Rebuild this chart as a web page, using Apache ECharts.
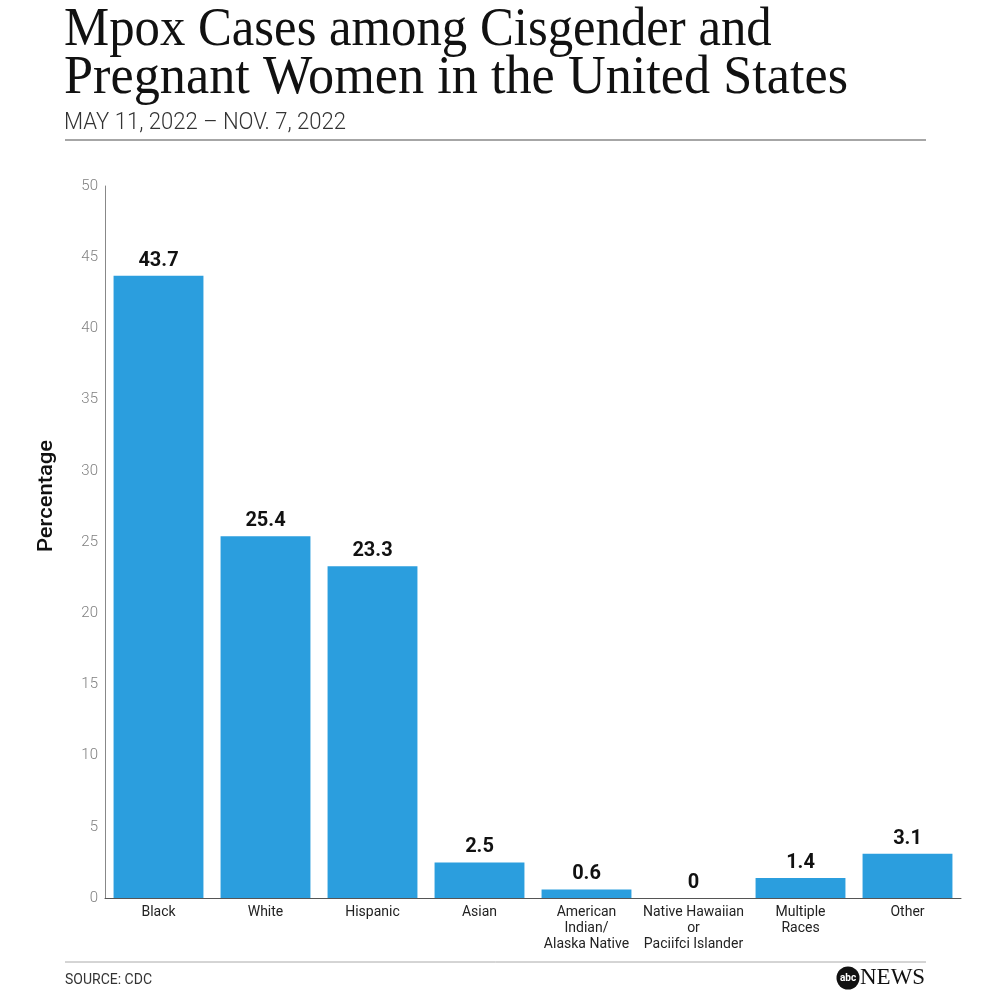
<!DOCTYPE html>
<html><head><meta charset="utf-8">
<script src="https://cdn.jsdelivr.net/npm/echarts@6/dist/echarts.min.js"></script>
<style>html,body{margin:0;padding:0;background:#fff}#c{width:992px;height:992px}</style>
</head><body><div id="c"></div>
<script>
const categories = ['Black','White','Hispanic','Asian','American\nIndian/\nAlaska Native','Native Hawaiian\nor\nPaciifci Islander','Multiple\nRaces','Other'];
const values = [43.7, 25.4, 23.3, 2.5, 0.6, 0, 1.4, 3.1];
const yTicks = [0, 5, 10, 15, 20, 25, 30, 35, 40, 45, 50];
const titleLines = ['Mpox Cases among Cisgender and', 'Pregnant Women in the United States'];
const subtitle = 'MAY 11, 2022 – NOV. 7, 2022';
const source = 'SOURCE: CDC';

const chart = echarts.init(document.getElementById('c'), null, {renderer:'canvas'});
chart.setOption({
  backgroundColor:'#fff',
  animation:false,
  grid:{left:105, right:31, top:186, bottom:94, containLabel:false},
  xAxis:{type:'category', data:categories,
    axisLine:{lineStyle:{color:'#555', width:1}}, axisTick:{show:false},
    axisLabel:{interval:0, color:'#222', fontFamily:'Roboto', fontSize:14, lineHeight:16, margin:6}},
  yAxis:{type:'value', min:0, max:50, interval:5,
    axisLine:{show:true, lineStyle:{color:'#888', width:1}}, axisTick:{show:false}, splitLine:{show:false},
    axisLabel:{color:'#808080', fontFamily:'Roboto', fontWeight:300, fontSize:15, margin:7,
      formatter:v=>yTicks.includes(v)?String(v):''}},
  series:[{type:'bar', data:values, barWidth:'84%', itemStyle:{color:'#2B9EDE'},
    label:{show:true, position:'top', distance:5, color:'#111', fontFamily:'Roboto', fontWeight:'bold', fontSize:20,
      formatter:p=>String(p.value)}}],
  graphic:[
    {type:'text', x:64, y:30, scaleX:0.94, scaleY:1.03, style:{text:titleLines[0], fill:'#111', font:'54px "Liberation Serif"', verticalAlign:'middle'}},
    {type:'text', x:64, y:78, scaleX:0.968, scaleY:1.03, style:{text:titleLines[1], fill:'#111', font:'54px "Liberation Serif"', verticalAlign:'middle'}},
    {type:'text', x:64, y:123, scaleX:0.92, style:{text:subtitle, fill:'#333', font:'300 24px Roboto', verticalAlign:'middle'}},
    {type:'text', x:65, y:980, style:{text:source, fill:'#333', font:'14px Roboto', verticalAlign:'middle'}},
    {type:'text', x:47, y:496, rotation:Math.PI/2, scaleX:1.1, style:{text:'Percentage', fill:'#111', font:'500 20px Roboto', align:'center', verticalAlign:'middle'}},
    {type:'line', shape:{x1:65,y1:140,x2:926,y2:140}, style:{stroke:'#888', lineWidth:1.5}},
    {type:'line', shape:{x1:65,y1:962,x2:926,y2:962}, style:{stroke:'#aaa', lineWidth:1}},
    {type:'circle', shape:{cx:848, cy:978, r:11.5}, style:{fill:'#111'}},
    {type:'text', x:848, y:978, style:{text:'abc', fill:'#fff', font:'bold 10px Roboto', align:'center', verticalAlign:'middle'}},
    {type:'text', x:860, y:978, style:{text:'NEWS', fill:'#111', font:'23px "Liberation Serif"', verticalAlign:'middle'}}
  ]
});
</script></body></html>
